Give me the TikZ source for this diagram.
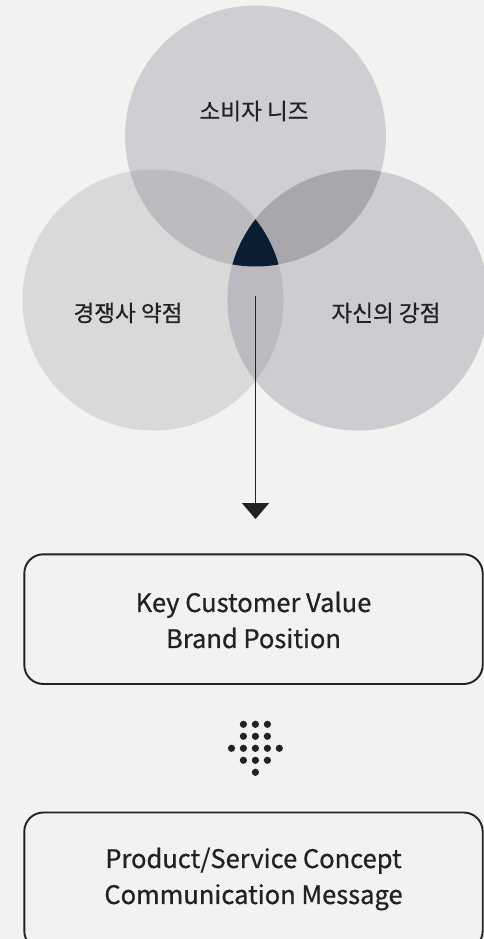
\documentclass[tikz,border=0pt]{standalone}
\usepackage{fontspec}
\setmainfont{Noto Sans CJK KR}[FakeBold=0.7]
\usetikzlibrary{arrows.meta}
\definecolor{bg}{HTML}{F3F2F0}
\definecolor{cleft}{HTML}{DAD9DA}
\definecolor{ctop}{HTML}{CFCED2}
\definecolor{cright}{HTML}{CDCCD1}
\definecolor{ctl}{HTML}{BCBBC0}
\definecolor{ctr}{HTML}{A9A7AE}
\definecolor{clr}{HTML}{BBBAC0}
\definecolor{ccore}{HTML}{0B1C33}
\definecolor{ink}{HTML}{222222}
\begin{document}
\begin{tikzpicture}[x=1pt,y=-1pt,
  lbl/.style={text=ink,font=\fontsize{22.6}{26}\selectfont,inner sep=0pt},
  boxtext/.style={text=ink,align=center,font=\fontsize{25.5}{36}\selectfont,inner sep=0pt},
  roundbox/.style={draw=ink,line width=1.9pt,rounded corners=19pt},
  dot/.style={fill=ink}]
\useasboundingbox (0,0) rectangle (484,939);
\fill[bg] (0,0) rectangle (484,939);
% circles
\def\R{130.5}
\coordinate (ct) at (255.5,136);
\coordinate (cl) at (153,300);
\coordinate (cr) at (358,300);
\fill[cleft] (cl) circle (\R);
\fill[cright] (cr) circle (\R);
\fill[ctop] (ct) circle (\R);
\begin{scope}
  \clip (ct) circle (\R);
  \fill[ctl] (cl) circle (\R);
  \fill[ctr] (cr) circle (\R);
\end{scope}
\begin{scope}
  \clip (cl) circle (\R);
  \fill[clr] (cr) circle (\R);
\end{scope}
\begin{scope}
  \clip (ct) circle (\R);
  \clip (cl) circle (\R);
  \fill[ccore] (cr) circle (\R);
\end{scope}
% labels
\node[lbl] (needs) at (254,111) {소비자 니즈};
\node[lbl] (weak) at (128,313) {경쟁사 약점};
\node[lbl] (strong) at (386,313) {자신의 강점};
% arrow
\coordinate (astart) at (255.5,296);
\coordinate (aend) at (255.5,519);
\draw[ink,line width=1.9pt,-{Triangle[width=27pt,length=16pt]}] (astart) -- (aend);
% boxes
\draw[roundbox] (24.3,554.3) rectangle (482.7,684);
\node[boxtext] (b1) at (253.5,620) {Key Customer Value\\Brand Position};
\draw[roundbox] (24.3,812.5) rectangle (482.7,950);
\node[boxtext] (b2) at (253.5,879) {Product/Service Concept\\Communication Message};
% dotted arrow
\foreach \y in {724.3,736.3} {
  \foreach \x in {243.4,255.4,267.4} { \fill[dot] (\x,\y) circle (3.6); }
}
\foreach \x in {231.5,243.4,255.4,267.4,279.3} { \fill[dot] (\x,748.3) circle (3.6); }
\foreach \x in {243.4,255.4,267.4} { \fill[dot] (\x,760.3) circle (3.6); }
\fill[dot] (255.4,772.3) circle (3.6);
\end{tikzpicture}
\end{document}
